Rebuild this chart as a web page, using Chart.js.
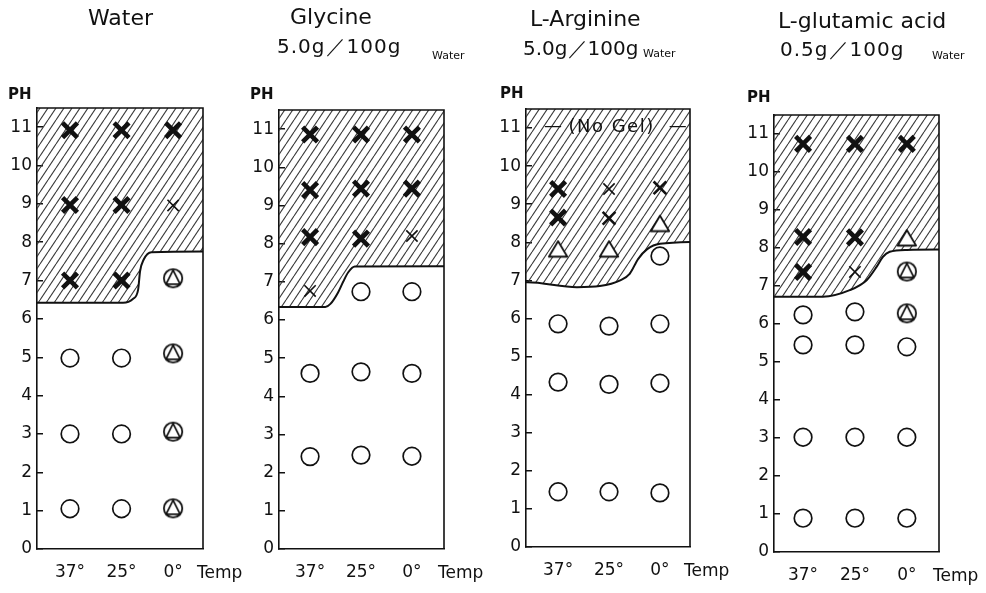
<!DOCTYPE html>
<html>
<head>
<meta charset="utf-8">
<script src="https://cdn.jsdelivr.net/npm/chart.js@4/dist/chart.umd.min.js"></script>
<style>
  html, body { margin: 0; padding: 0; background: #fff; }
  body { width: 986px; height: 593px; position: relative; overflow: hidden; }
  canvas { position: absolute; top: 0; }
</style>
</head>
<body>
<canvas id="p0" width="246" height="593" style="left:0px"></canvas>
<canvas id="p1" width="246" height="593" style="left:246px"></canvas>
<canvas id="p2" width="248" height="593" style="left:492px"></canvas>
<canvas id="p3" width="246" height="593" style="left:740px"></canvas>
<script>
// ---- categories and tick labels ----
const temps = ['37°', '25°', '0°'];
const phTicks = [0, 1, 2, 3, 4, 5, 6, 7, 8, 9, 10, 11];
const phTop = 11.5;
const solutes = ['Water', 'Glycine', 'L-Arginine', 'L-glutamic acid'];
const doses = ['', '5.0g／100g', '5.0g／100g', '0.5g／100g'];
const solventWord = 'Water';
const noGelText = '(No Gel)';

// ---- observations: [temperature index, pH] ----
// Water
const waterEdge   = [[-1, 6.42], [1.03, 6.42], [1.22, 6.52], [1.32, 6.75], [1.36, 7.25], [1.43, 7.55], [1.58, 7.74], [3, 7.76]];
const waterHeavy  = [[0, 10.92], [1, 10.92], [2, 10.92], [0, 8.97], [1, 8.97], [0, 7.0], [1, 7.0]];
const waterMedium = [];
const waterLight  = [[2, 8.96]];
const waterCircle = [[0, 4.98], [1, 4.98], [0, 3.0], [1, 3.0], [0, 1.05], [1, 1.05]];
const waterTri    = [];
const waterRingTri = [[2, 7.06], [2, 5.1], [2, 3.06], [2, 1.06]];

// Glycine 5.0g/100g water
const glyEdge   = [[-1, 6.34], [0.3, 6.34], [0.4, 6.42], [0.55, 6.72], [0.65, 7.0], [0.75, 7.25], [0.88, 7.4], [3, 7.41]];
const glyHeavy  = [[0, 10.86], [1, 10.86], [2, 10.86], [0, 9.4], [1, 9.44], [2, 9.44], [0, 8.17], [1, 8.13]];
const glyMedium = [];
const glyLight  = [[2, 8.2], [0, 6.76]];
const glyCircle = [[1, 6.74], [2, 6.74], [0, 4.6], [1, 4.64], [2, 4.6], [0, 2.42], [1, 2.46], [2, 2.43]];
const glyTri    = [];
const glyRingTri = [];

// L-Arginine 5.0g/100g water
const argEdge   = [[-1, 6.95], [-0.6, 6.95], [0.37, 6.82], [0.82, 6.85], [1.22, 7.0], [1.41, 7.18], [1.57, 7.56], [1.75, 7.82], [2.0, 7.96], [3, 8.02]];
const argHeavy  = [[0, 9.4], [0, 8.65]];
const argMedium = [[1, 8.63], [2, 9.43]];
const argLight  = [[1, 9.4]];
const argCircle = [[2, 7.64], [0, 5.86], [1, 5.8], [2, 5.86], [0, 4.33], [1, 4.27], [2, 4.3], [0, 1.45], [1, 1.45], [2, 1.42]];
const argTri    = [[0, 7.82], [1, 7.82], [2, 8.49]];
const argRingTri = [];

// L-glutamic acid 0.5g/100g water
const gluEdge   = [[-1, 6.72], [0.38, 6.72], [0.9, 6.89], [1.23, 7.16], [1.42, 7.51], [1.54, 7.77], [1.67, 7.9], [2.0, 7.95], [3, 7.96]];
const gluHeavy  = [[0, 10.74], [1, 10.74], [2, 10.74], [0, 8.29], [1, 8.28], [0, 7.37]];
const gluMedium = [];
const gluLight  = [[1, 7.37]];
const gluCircle = [[0, 6.24], [1, 6.32], [0, 5.45], [1, 5.45], [2, 5.4], [0, 3.02], [1, 3.02], [2, 3.02], [0, 0.89], [1, 0.89], [2, 0.89]];
const gluTri    = [[2, 8.26]];
const gluRingTri = [[2, 7.38], [2, 6.28]];

// ---- styling ----
const ink = '#111111';
const FONT = "'DejaVu Sans', sans-serif";

// plot frame of each panel, in canvas pixels
const frames = [
  { axisW: 37, padTop: 108, padRight: 43, axisH: 44, xMin: -0.64, xMax: 2.58 },
  { axisW: 33, padTop: 110, padRight: 48, axisH: 44, xMin: -0.61, xMax: 2.63 },
  { axisW: 34, padTop: 109, padRight: 50, axisH: 46, xMin: -0.63, xMax: 2.59 },
  { axisW: 34, padTop: 115, padRight: 47, axisH: 41, xMin: -0.56, xMax: 2.62 }
];
// heading placement (canvas pixels)
const headSpots = [
  { tx: 88, ty: 25 },
  { tx: 44, ty: 24, dx: 31, dy: 53, ls: 1, wx: 186, wy: 59 },
  { tx: 38, ty: 26, dx: 31, dy: 55, ls: 0, wx: 151, wy: 57 },
  { tx: 38, ty: 28, dx: 40, dy: 56, ls: 1, wx: 192, wy: 59 }
];
const phSpots = [{ x: 8, y: 99 }, { x: 4, y: 99 }, { x: 8, y: 98 }, { x: 7, y: 102 }];

function glyph(size, paint) {
  const c = document.createElement('canvas');
  c.width = c.height = size;
  const g = c.getContext('2d');
  g.strokeStyle = ink; g.fillStyle = '#fff'; g.lineJoin = 'round';
  paint(g, size / 2);
  return c;
}
const triangleGlyph = glyph(26, (g, m) => {
  g.lineWidth = 1.8;
  g.beginPath(); g.moveTo(m, m - 8); g.lineTo(m + 9.2, m + 7.5); g.lineTo(m - 9.2, m + 7.5); g.closePath();
  g.fill(); g.stroke();
});
const ringTriangleGlyph = glyph(26, (g, m) => {
  g.lineWidth = 1.8;
  g.beginPath(); g.arc(m, m, 9.2, 0, Math.PI * 2); g.fill(); g.stroke();
  g.lineWidth = 1.7;
  g.beginPath(); g.moveTo(m, m - 8.2); g.lineTo(m + 7, m + 5.8); g.lineTo(m - 7, m + 5.8); g.closePath(); g.stroke();
});

function hatchFor(ctx) {
  const t = document.createElement('canvas');
  t.width = 8; t.height = 12;
  const g = t.getContext('2d');
  g.strokeStyle = '#3a3a3a'; g.lineWidth = 1.1;
  for (const k of [-1, 0, 1]) { g.beginPath(); g.moveTo(8 * k, 12); g.lineTo(8 * k + 8, 0); g.stroke(); }
  return ctx.createPattern(t, 'repeat');
}

const pts = list => list.map(([x, y]) => ({ x, y }));

const panelSeries = [
  [waterEdge, waterHeavy, waterMedium, waterLight, waterCircle, waterTri, waterRingTri],
  [glyEdge, glyHeavy, glyMedium, glyLight, glyCircle, glyTri, glyRingTri],
  [argEdge, argHeavy, argMedium, argLight, argCircle, argTri, argRingTri],
  [gluEdge, gluHeavy, gluMedium, gluLight, gluCircle, gluTri, gluRingTri]
];

const framePlugin = {
  id: 'frame',
  afterDatasetsDraw(chart) {
    const { ctx, chartArea: a } = chart;
    ctx.save();
    ctx.strokeStyle = ink; ctx.lineWidth = 1.6;
    ctx.beginPath();
    ctx.moveTo(a.left, a.top); ctx.lineTo(a.right, a.top); ctx.lineTo(a.right, a.bottom);
    ctx.stroke();
    ctx.restore();
  }
};

function textPlugin(i) {
  return {
    id: 'panelText' + i,
    afterDraw(chart) {
      const { ctx, chartArea: a, scales } = chart;
      const h = headSpots[i];
      ctx.save();
      ctx.fillStyle = ink;
      ctx.textBaseline = 'alphabetic';
      ctx.textAlign = 'left';
      ctx.font = '22px ' + FONT;
      ctx.fillText(solutes[i], h.tx, h.ty);
      if (doses[i]) {
        ctx.font = '20px ' + FONT;
        ctx.letterSpacing = h.ls + 'px';
        ctx.fillText(doses[i], h.dx, h.dy);
        ctx.letterSpacing = '0px';
        ctx.font = '11px ' + FONT;
        ctx.fillText(solventWord, h.wx, h.wy);
      }
      ctx.font = 'bold 15px ' + FONT;
      ctx.fillText('PH', phSpots[i].x, phSpots[i].y);
      ctx.font = '17px ' + FONT;
      ctx.fillText('Temp', a.right - 6, a.bottom + 29);
      if (i === 2) {
        const y = scales.y.getPixelForValue(11) + 4;
        ctx.textAlign = 'center';
        ctx.font = '18px ' + FONT;
        ctx.letterSpacing = '1.5px';
        ctx.fillText(noGelText, scales.x.getPixelForValue(1.05), y);
        ctx.letterSpacing = '0px';
        ctx.fillText('—', scales.x.getPixelForValue(-0.1), y - 1);
        ctx.fillText('—', scales.x.getPixelForValue(2.35), y - 1);
      }
      ctx.restore();
    }
  };
}

panelSeries.forEach((series, i) => {
  const canvas = document.getElementById('p' + i);
  const ctx = canvas.getContext('2d');
  const f = frames[i];
  const [edge, heavy, medium, light, circle, tri, ringTri] = series;
  const crossSet = (data, r, w) => ({
    data: pts(data), pointStyle: 'crossRot', pointRadius: r, borderWidth: w,
    borderColor: ink, backgroundColor: ink, order: 1
  });
  const datasets = [
    {
      type: 'line', data: pts(edge), showLine: true, fill: 'end',
      backgroundColor: hatchFor(ctx), borderColor: ink, borderWidth: 2,
      pointRadius: 0, cubicInterpolationMode: 'monotone', clip: 0, order: 9
    },
    crossSet(heavy, 10.5, 4.6),
    crossSet(medium, 9, 2.6),
    crossSet(light, 8, 1.6),
    {
      data: pts(circle), pointStyle: 'circle', pointRadius: 8.8, borderWidth: 1.7,
      borderColor: ink, backgroundColor: '#fff', order: 1
    },
    { data: pts(tri), pointStyle: triangleGlyph, pointRadius: 9, order: 1 },
    { data: pts(ringTri), pointStyle: ringTriangleGlyph, pointRadius: 9, order: 1 }
  ];
  new Chart(ctx, {
    type: 'scatter',
    data: { datasets },
    plugins: [framePlugin, textPlugin(i)],
    options: {
      responsive: false,
      animation: false,
      devicePixelRatio: 1,
      layout: { padding: { top: f.padTop, right: f.padRight, left: 0, bottom: 0 } },
      plugins: { legend: { display: false }, tooltip: { enabled: false } },
      events: [],
      scales: {
        x: {
          type: 'linear', min: f.xMin, max: f.xMax,
          afterBuildTicks: s => { s.ticks = temps.map((_, k) => ({ value: k })); },
          afterFit: s => { s.height = f.axisH; },
          ticks: {
            callback: v => temps[v] ?? '',
            font: { family: FONT, size: 17 }, color: ink, padding: 5, maxRotation: 0
          },
          grid: { display: false },
          border: { display: true, color: ink, width: 1.6 }
        },
        y: {
          type: 'linear', min: 0, max: phTop,
          afterBuildTicks: s => { s.ticks = phTicks.map(v => ({ value: v })); },
          afterFit: s => { s.width = f.axisW; },
          ticks: {
            callback: v => String(v),
            font: { family: FONT, size: 17 }, color: ink, padding: 11
          },
          grid: { display: true, drawOnChartArea: false, drawTicks: true, tickLength: -6, color: ink, lineWidth: 1.5 },
          border: { display: true, color: ink, width: 1.6 }
        }
      }
    }
  });
});
</script>
</body>
</html>
